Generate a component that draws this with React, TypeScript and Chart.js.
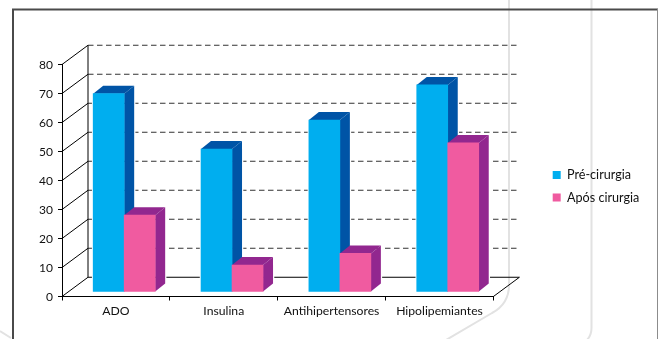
import { useEffect, useRef } from "react";
import { Chart, registerables } from "chart.js";

Chart.register(...registerables);

const categories = ["ADO", "Insulina", "Antihipertensores", "Hipolipemiantes"];
const preCirurgia = [68.4, 49.3, 59.3, 71.4];
const aposCirurgia = [26.5, 9.3, 13.3, 51.4];
const seriesNames = ["Pré-cirurgia", "Após cirurgia"];

const FONT = "Lato, 'Open Sans', sans-serif";
const INK = "#111111";

// Extrusion of each bar and of the chart box
const BAR_DX = 10;
const BAR_DY = 8;
const BOX_DX = 26;
const BOX_DY = 19.25;
// Bars stand in the middle of the floor, behind the front axis
const FLOOR_DX = 8.25;
const FLOOR_DY = 4.5;

const faces = [
  { top: "#0054a6", side: "#0054a6" },
  { top: "#92278f", side: "#92278f" },
];

const page3d = {
  id: "page3d",
  // Page frame and the pale artwork lines behind the chart
  beforeDraw(chart: any) {
    const { ctx } = chart;
    ctx.save();
    ctx.strokeStyle = "#e2e2e2";
    ctx.lineWidth = 2;
    ctx.beginPath();
    ctx.moveTo(509, 0);
    ctx.lineTo(509, 285);
    ctx.quadraticCurveTo(509, 304, 492, 313);
    ctx.lineTo(446, 340);
    ctx.moveTo(591.5, 0);
    ctx.lineTo(591.5, 328);
    ctx.quadraticCurveTo(591.5, 335, 587, 340);
    ctx.moveTo(0, 331);
    ctx.lineTo(11, 338);
    ctx.stroke();

    ctx.strokeStyle = "#4a4a4a";
    ctx.lineWidth = 2;
    ctx.beginPath();
    ctx.moveTo(13, 339);
    ctx.lineTo(13, 9.5);
    ctx.lineTo(658, 9.5);
    ctx.stroke();
    ctx.strokeStyle = "#8c8c8c";
    ctx.lineWidth = 1;
    ctx.beginPath();
    ctx.moveTo(657.5, 9);
    ctx.lineTo(657.5, 339);
    ctx.stroke();
    ctx.restore();
  },
  // Back wall with its dashed rules, the side wall and the floor, all from the y scale
  beforeDatasetsDraw(chart: any) {
    const { ctx, chartArea } = chart;
    const y = chart.scales.y;
    const { left, right, bottom } = chartArea;
    ctx.save();
    ctx.lineWidth = 1;
    ctx.strokeStyle = "#000";
    y.ticks.forEach((t: any) => {
      const py = y.getPixelForValue(t.value);
      ctx.beginPath();
      ctx.moveTo(left, py);
      ctx.lineTo(left + BOX_DX, py - BOX_DY);
      ctx.stroke();
      ctx.save();
      if (t.value !== 0) {
        ctx.strokeStyle = "#333";
        ctx.setLineDash([5.5, 3.5]);
      }
      ctx.beginPath();
      ctx.moveTo(left + BOX_DX, py - BOX_DY);
      ctx.lineTo(right + BOX_DX, py - BOX_DY);
      ctx.stroke();
      ctx.restore();
    });
    ctx.beginPath();
    ctx.moveTo(left + BOX_DX, y.getPixelForValue(y.max) - BOX_DY);
    ctx.lineTo(left + BOX_DX, bottom - BOX_DY);
    ctx.stroke();
    ctx.beginPath();
    ctx.moveTo(right, bottom);
    ctx.lineTo(right + BOX_DX, bottom - BOX_DY);
    ctx.stroke();
    ctx.restore();
  },
  // The blocks are painted together below, front series first
  beforeDatasetDraw() {
    return false;
  },
  afterDatasetsDraw(chart: any) {
    const { ctx } = chart;
    const metas = [chart.getDatasetMeta(0), chart.getDatasetMeta(1)];
    ctx.save();
    ctx.translate(FLOOR_DX, -FLOOR_DY);
    // White halo that interrupts the rules around each block
    ctx.strokeStyle = "#ffffff";
    ctx.lineWidth = 2.5;
    metas.forEach((meta: any) => {
      meta.data.forEach((bar: any) => {
        const l = bar.x - bar.width / 2;
        const r = bar.x + bar.width / 2;
        ctx.beginPath();
        ctx.moveTo(l, bar.base);
        ctx.lineTo(l, bar.y);
        ctx.lineTo(l + BAR_DX, bar.y - BAR_DY);
        ctx.lineTo(r + BAR_DX, bar.y - BAR_DY);
        ctx.lineTo(r + BAR_DX, bar.base - BAR_DY);
        ctx.lineTo(r, bar.base);
        ctx.closePath();
        ctx.stroke();
      });
    });
    metas.forEach((meta: any, index: number) => {
      const face = faces[index];
      meta.data.forEach((bar: any) => {
        const l = bar.x - bar.width / 2;
        const r = bar.x + bar.width / 2;
        ctx.fillStyle = face.top;
        ctx.beginPath();
        ctx.moveTo(l, bar.y);
        ctx.lineTo(l + BAR_DX, bar.y - BAR_DY);
        ctx.lineTo(r + BAR_DX, bar.y - BAR_DY);
        ctx.lineTo(r, bar.y);
        ctx.closePath();
        ctx.fill();
        ctx.fillStyle = face.side;
        ctx.beginPath();
        ctx.moveTo(r, bar.y);
        ctx.lineTo(r + BAR_DX, bar.y - BAR_DY);
        ctx.lineTo(r + BAR_DX, bar.base - BAR_DY);
        ctx.lineTo(r, bar.base);
        ctx.closePath();
        ctx.fill();
      });
      meta.controller.draw();
    });
    ctx.restore();
  },
  // The legend sits away from the plot, in the right-hand margin
  afterLayout(chart: any) {
    const legend = chart.legend;
    const shiftX = 542.7 - legend.left;
    const shiftY = -15.5;
    legend.left += shiftX;
    legend.right += shiftX;
    legend.top += shiftY;
    legend.bottom += shiftY;
  },
};

export default function App() {
  const ref = useRef<HTMLCanvasElement>(null);

  useEffect(() => {
    const chart = new Chart(ref.current as HTMLCanvasElement, {
      type: "bar",
      data: {
        labels: categories,
        datasets: [
          { label: seriesNames[0], data: preCirurgia, backgroundColor: "#00aeef" },
          { label: seriesNames[1], data: aposCirurgia, backgroundColor: "#f05ba0" },
        ],
      },
      plugins: [page3d],
      options: {
        animation: false,
        responsive: false,
        clip: false,
        barThickness: 31,
        layout: { padding: { top: 64.5, right: 58, left: 0, bottom: 0 } },
        plugins: {
          tooltip: { enabled: false },
          title: { display: false },
          legend: {
            position: "right",
            labels: {
              boxWidth: 8,
              boxHeight: 8,
              padding: 10,
              color: INK,
              font: { family: FONT, size: 12.6 },
            },
          },
        },
        scales: {
          x: {
            afterFit(scale: any) {
              scale.height = 42.5;
            },
            border: { color: "#000", width: 1 },
            grid: { drawOnChartArea: false, tickLength: 4, color: "#000" },
            ticks: { color: INK, padding: 3, maxRotation: 0, font: { family: FONT, size: 12.2 } },
          },
          y: {
            min: 0,
            max: 80,
            afterFit(scale: any) {
              scale.width = 62;
            },
            border: { color: "#000", width: 1 },
            grid: { drawOnChartArea: false, tickLength: 4, color: "#000" },
            ticks: { stepSize: 10, color: INK, padding: 5, labelOffset: 0.8, font: { family: FONT, size: 12 } },
          },
        },
      } as any,
    });
    return () => chart.destroy();
  }, []);

  return (
    <div style={{ position: "absolute", left: 0, top: 0, width: 658, height: 339 }}>
      <canvas ref={ref} width={658} height={339} style={{ display: "block" }} />
    </div>
  );
}
